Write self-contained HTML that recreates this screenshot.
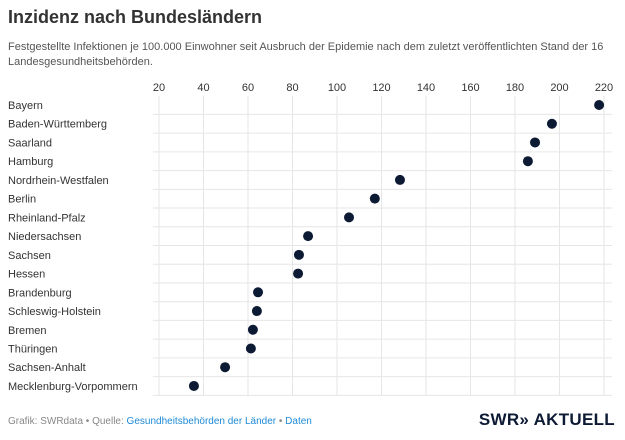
<!DOCTYPE html>
<html><head><meta charset="utf-8"><style>
body{margin:0;width:625px;height:440px;background:#fff;font-family:"Liberation Sans",sans-serif;overflow:hidden;position:relative}
.t{position:absolute;left:8px;top:7px;font-size:18px;color:#333;font-weight:bold}
.s{position:absolute;left:8px;top:40px;font-size:11px;color:#555;line-height:15px;width:610px}
.f{position:absolute;left:8px;top:416px;font-size:10px;color:#888}
.f a{color:#1e8ad6;text-decoration:none}
.logo{position:absolute;right:10px;top:410px;font-size:17px;font-weight:bold;color:#0c1a34;letter-spacing:0.3px}
</style></head><body>
<div class="t">Inzidenz nach Bundesländern</div>
<div class="s">Festgestellte Infektionen je 100.000 Einwohner seit Ausbruch der Epidemie nach dem zuletzt veröffentlichten Stand der 16 Landesgesundheitsbehörden.</div>
<svg id="c" width="625" height="440" style="position:absolute;left:0;top:0"></svg>
<div class="f">Grafik: SWRdata • Quelle: <a>Gesundheitsbehörden der Länder</a> • <a>Daten</a></div>
<div class="logo">SWR» AKTUELL</div>
<script>
const categories=["Bayern","Baden-Württemberg","Saarland","Hamburg","Nordrhein-Westfalen","Berlin","Rheinland-Pfalz","Niedersachsen","Sachsen","Hessen","Brandenburg","Schleswig-Holstein","Bremen","Thüringen","Sachsen-Anhalt","Mecklenburg-Vorpommern"];
const values=[217.8,196.6,189,185.8,128.3,117,105.4,87,82.9,82.5,64.5,64,62.2,61.3,49.7,35.7];
const ticks=[20,40,60,80,100,120,140,160,180,200,220];
const svg=document.getElementById('c');const NS='http://www.w3.org/2000/svg';
const x=v=>159+(v-20)*2.225;
const y=i=>105+i*18.73;
function mk(t,a){const e=document.createElementNS(NS,t);for(const k in a)e.setAttribute(k,a[k]);svg.appendChild(e);return e;}
ticks.forEach(t=>{
const l=mk('line',{x1:x(t),x2:x(t),y1:96,y2:396,stroke:'#e6e6e6'});


const tx=mk('text',{x:x(t),y:91,'text-anchor':'middle','font-size':11,fill:'#333'});tx.textContent=t;


});
categories.forEach((c,i)=>{
const gl=mk('line',{x1:153,x2:612,y1:y(i)+9.4,y2:y(i)+9.4,stroke:'#e6e6e6'});


const lb=mk('text',{x:8,y:y(i)+4,'font-size':11,fill:'#333'});lb.textContent=c;


const d=mk('circle',{cx:x(values[i]),cy:y(i),r:5,fill:'#0c1a34'});


});
</script>
</body></html>
